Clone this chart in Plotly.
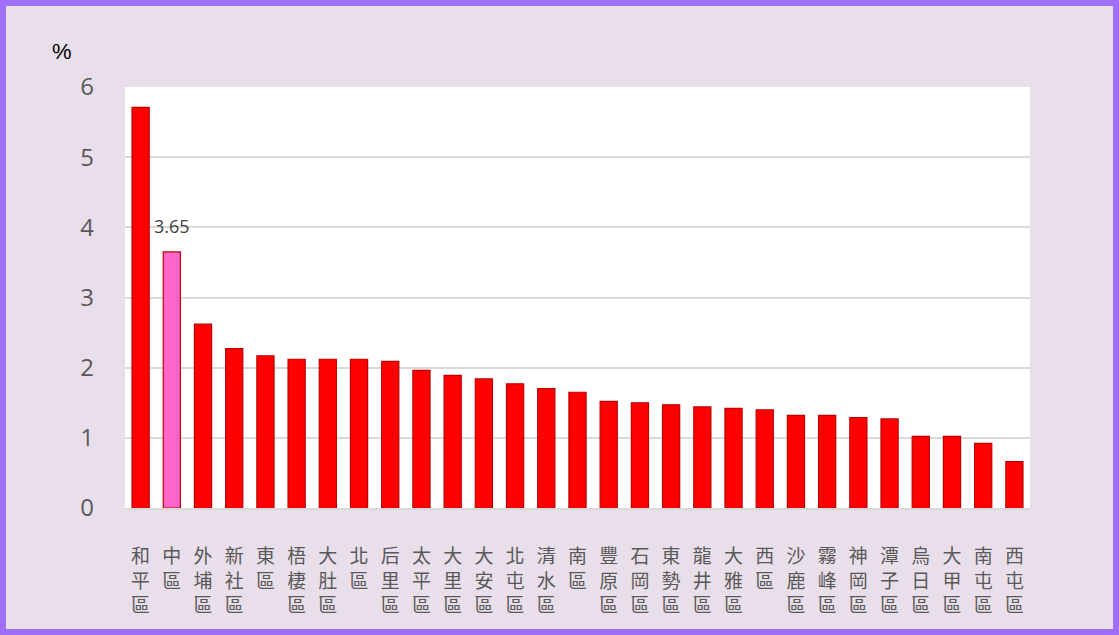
import plotly.graph_objects as go

districts = ["和平區", "中區", "外埔區", "新社區", "東區", "梧棲區", "大肚區", "北區", "后里區", "太平區",
             "大里區", "大安區", "北屯區", "清水區", "南區", "豐原區", "石岡區", "東勢區", "龍井區", "大雅區",
             "西區", "沙鹿區", "霧峰區", "神岡區", "潭子區", "烏日區", "大甲區", "南屯區", "西屯區"]
values = [5.71, 3.65, 2.62, 2.27, 2.17, 2.12, 2.12, 2.12, 2.09, 1.96,
          1.89, 1.84, 1.77, 1.70, 1.65, 1.52, 1.50, 1.47, 1.44, 1.42,
          1.40, 1.32, 1.32, 1.29, 1.27, 1.02, 1.02, 0.92, 0.66]
highlight = "中區"
y_ticks = [0, 1, 2, 3, 4, 5, 6]

fill = ["#FF66CC" if d == highlight else "#FF0000" for d in districts]
labels = ["<br>".join(list(d)) for d in districts]
num_font = "Open Sans, Liberation Sans, Arial"

fig = go.Figure(go.Bar(
    x=districts, y=values, marker=dict(color=fill, line=dict(color="#C00000", width=1.2)),
    width=0.55, hoverinfo="x+y"))

hv = values[districts.index(highlight)]
fig.add_annotation(x=highlight, y=hv, text=f"{hv:.2f}", showarrow=False, yshift=26, xshift=0,
                   yanchor="middle", font=dict(size=18, color="#404040", family=num_font))

fig.add_annotation(xref="paper", yref="paper", x=-63/905, y=1 + 35/421, text="%", showarrow=False,
                   font=dict(size=22, color="#000000", family="Liberation Sans"),
                   xanchor="center", yanchor="middle")

fig.add_shape(type="rect", xref="paper", yref="paper",
              x0=-122/905, x1=1 + 86/905, y0=-124/421, y1=1 + 84/421,
              line=dict(color="#9F6FF7", width=6), layer="below")

fig.update_layout(
    width=1119, height=635,
    margin=dict(l=125, r=89, t=87, b=127),
    paper_bgcolor="#E9DFEA", plot_bgcolor="#FFFFFF",
    showlegend=False, bargap=0.45,
    xaxis=dict(tickmode="array", tickvals=districts, ticktext=labels, tickangle=0,
               tickfont=dict(size=19, color="#595959", family="Noto Sans CJK TC"),
               showline=True, linecolor="#D9D9D9", linewidth=2, ticks="", showgrid=False,
               ticklabelstandoff=30, range=[-0.5, len(districts) - 0.5]),
    yaxis=dict(range=[0, 6], tickvals=y_ticks, showgrid=True, gridcolor="#D9D9D9", gridwidth=2,
               tickfont=dict(size=24, color="#595959", family=num_font),
               zeroline=False, ticks="", ticklabelstandoff=30, showline=False),
)

fig.write_html("out.html", config={"displayModeBar": False},
               post_script="document.body.style.margin='0';document.body.style.padding='0';")
